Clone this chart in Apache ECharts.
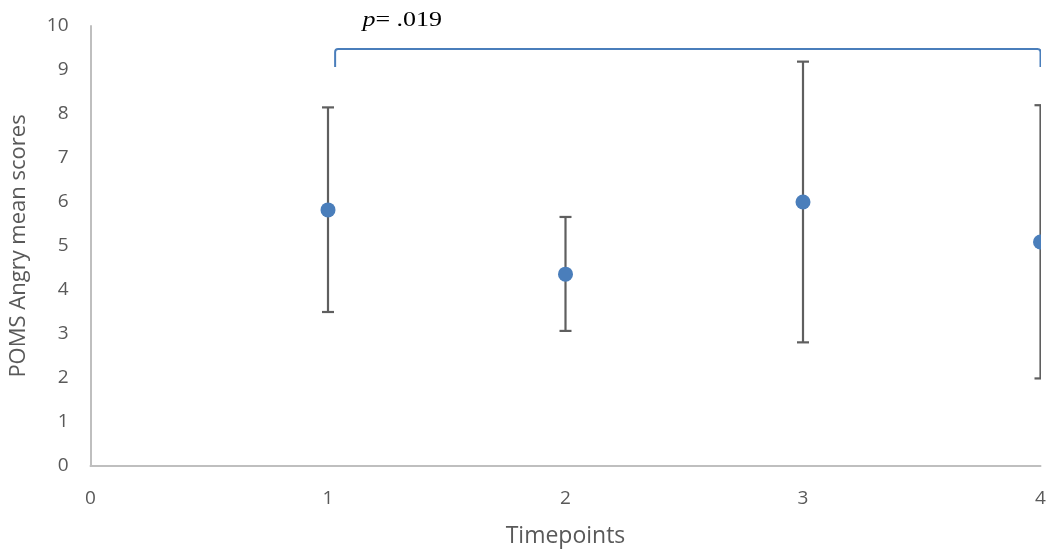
<!DOCTYPE html>
<html>
<head>
<meta charset="utf-8">
<script src="https://cdn.jsdelivr.net/npm/echarts@6/dist/echarts.min.js"></script>
<style>
  html, body { margin: 0; padding: 0; background: #fff; }
  #chart { width: 1046px; height: 549px; }
</style>
</head>
<body>
<div id="chart"></div>
<script>
// Timepoints and POMS anger means with their error-bar limits
const timepoints = [1, 2, 3, 4];
const means = [5.82, 4.36, 6.00, 5.09];
const upper = [8.15, 5.66, 9.19, 8.20];
const lower = [3.50, 3.07, 2.81, 1.99];

// Significance bracket between timepoint 1 and 4
const bracketFrom = [1.03, 4];
const bracketLevels = [9.48, 9.07]; // horizontal bar, bottom of the legs
const bracketLabelAt = [1.145, 10.1];
const pLabel = '.019';

const tickFont = 'Open Sans, Liberation Sans, sans-serif';
const axisGrey = '#bfbfbf';
const textGrey = '#595959';
const dotBlue = '#4a7ebb';

const pointData = timepoints.map((t, i) => [t, means[i], lower[i], upper[i]]);

const chart = echarts.init(document.getElementById('chart'));
chart.setOption({
  animation: false,
  grid: { left: 90.5, right: 5.5, top: 26, bottom: 83, containLabel: false, outerBoundsMode: 'none' },
  xAxis: {
    type: 'value', min: 0, max: 4, interval: 1,
    name: 'Timepoints', nameLocation: 'middle', nameGap: 59,
    nameTextStyle: { fontFamily: tickFont, fontSize: 23, color: textGrey },
    axisLine: { show: true, onZero: false, lineStyle: { color: axisGrey, width: 2 } },
    axisTick: { show: false },
    splitLine: { show: false },
    axisLabel: { fontFamily: tickFont, fontSize: 19, color: textGrey, margin: 23 }
  },
  yAxis: {
    type: 'value', min: 0, max: 10, interval: 1,
    name: 'POMS Angry mean scores', nameLocation: 'middle', nameGap: 61,
    nameTextStyle: { fontFamily: tickFont, fontSize: 22, color: textGrey },
    axisLine: { show: true, lineStyle: { color: axisGrey, width: 2 } },
    axisTick: { show: false },
    splitLine: { show: false },
    axisLabel: { fontFamily: tickFont, fontSize: 19, color: textGrey, margin: 22 }
  },
  series: [
    {
      // error bars with caps, plus the mean markers
      type: 'custom',
      clip: true,
      data: pointData,
      renderItem: function (params, api) {
        const x = api.value(0);
        const pMean = api.coord([x, api.value(1)]);
        const pLow = api.coord([x, api.value(2)]);
        const pHigh = api.coord([x, api.value(3)]);
        const cap = 6;
        const barStyle = { stroke: '#5f5f5f', lineWidth: 2.2, fill: null };
        return {
          type: 'group',
          children: [
            { type: 'line', shape: { x1: pLow[0], y1: pLow[1], x2: pHigh[0], y2: pHigh[1] }, style: barStyle },
            { type: 'line', shape: { x1: pHigh[0] - cap, y1: pHigh[1], x2: pHigh[0] + cap, y2: pHigh[1] }, style: barStyle },
            { type: 'line', shape: { x1: pLow[0] - cap, y1: pLow[1], x2: pLow[0] + cap, y2: pLow[1] }, style: barStyle },
            { type: 'circle', shape: { cx: pMean[0], cy: pMean[1], r: 7.5 }, style: { fill: dotBlue } }
          ]
        };
      }
    },
    {
      // significance bracket
      type: 'custom',
      clip: true,
      data: [[bracketFrom[0], bracketFrom[1], bracketLevels[0], bracketLevels[1]]],
      renderItem: function (params, api) {
        const a = api.coord([api.value(0), api.value(2)]);
        const b = api.coord([api.value(1), api.value(2)]);
        const aLow = api.coord([api.value(0), api.value(3)]);
        const bLow = api.coord([api.value(1), api.value(3)]);
        const r = 3;
        const d = 'M' + aLow[0] + ' ' + aLow[1] +
          ' L' + a[0] + ' ' + (a[1] + r) +
          ' Q' + a[0] + ' ' + a[1] + ' ' + (a[0] + r) + ' ' + a[1] +
          ' L' + (b[0] - r) + ' ' + b[1] +
          ' Q' + b[0] + ' ' + b[1] + ' ' + b[0] + ' ' + (b[1] + r) +
          ' L' + bLow[0] + ' ' + bLow[1];
        return {
          type: 'path',
          shape: { pathData: d },
          style: { stroke: dotBlue, lineWidth: 2, fill: null }
        };
      }
    },
    {
      // p-value label above the bracket
      type: 'custom',
      clip: false,
      data: [[bracketLabelAt[0], bracketLabelAt[1]]],
      renderItem: function (params, api) {
        const p = api.coord([api.value(0), api.value(1)]);
        return {
          type: 'text',
          x: p[0], y: p[1] - 1,
          scaleX: 1.3,
          style: {
            text: '{i|p}{n|= ' + pLabel + '}',
            verticalAlign: 'middle',
            align: 'left',
            rich: {
              i: { fontFamily: 'Liberation Serif, DejaVu Serif, serif', fontStyle: 'italic', fontSize: 20, fill: '#000' },
              n: { fontFamily: 'Liberation Serif, DejaVu Serif, serif', fontSize: 20, fill: '#000' }
            }
          }
        };
      }
    }
  ]
});
</script>
</body>
</html>
